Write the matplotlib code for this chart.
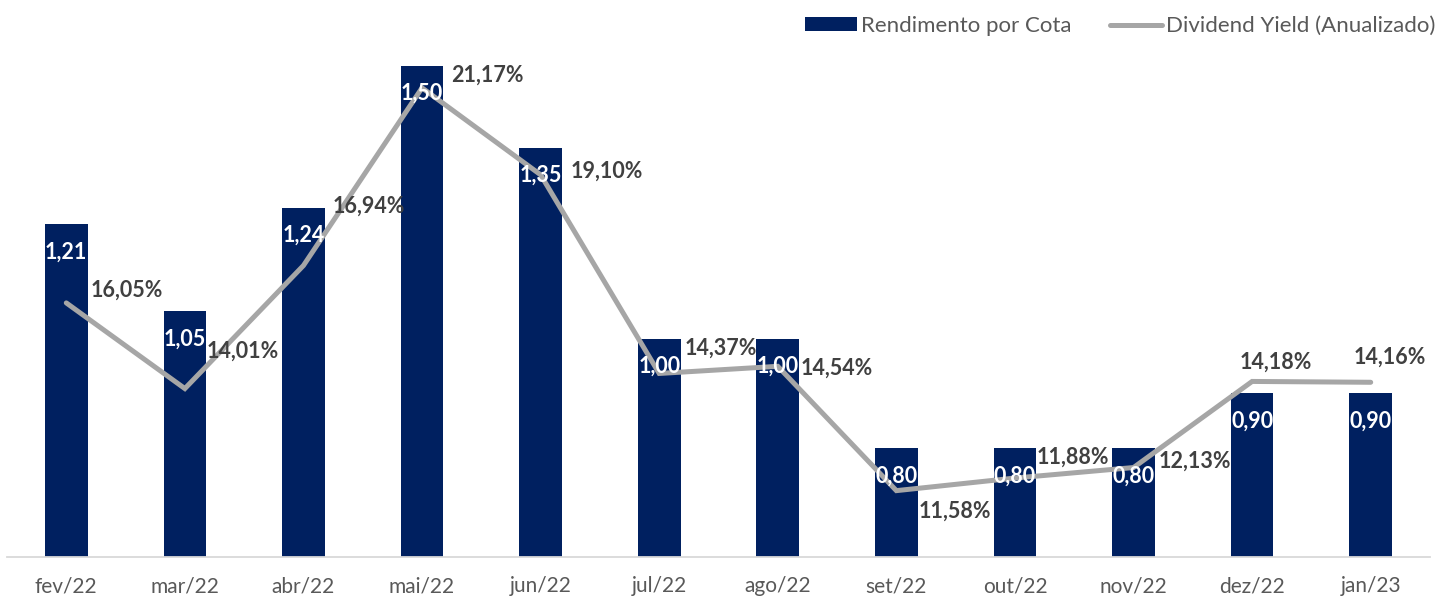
import matplotlib
matplotlib.use("Agg")
import matplotlib.pyplot as plt
from matplotlib.patches import Patch
from matplotlib.lines import Line2D

plt.rcParams['font.family'] = ['Lato', 'DejaVu Sans']

months = ["fev/22", "mar/22", "abr/22", "mai/22", "jun/22", "jul/22",
          "ago/22", "set/22", "out/22", "nov/22", "dez/22", "jan/23"]
rendimento = [1.21, 1.05, 1.24, 1.50, 1.35, 1.00, 1.00, 0.80, 0.80, 0.80, 0.90, 0.90]
dy_pct = [16.05, 14.01, 16.94, 21.17, 19.10, 14.37, 14.54, 11.58, 11.88, 12.13, 14.18, 14.16]

# label offsets (pixels, relative to the line point) for the yield labels
dy_offsets = [(61, 13), (58, 37), (65, 59), (65, 13), (66, 4), (62, 25),
              (59, -2), (58, -21), (58, 21), (61, 6), (24, 19), (19, 25)]

NAVY = "#002060"
GREY = "#A6A6A6"
LABEL = "#404040"
TICK = "#595959"

W, H = 1437, 599
fig = plt.figure(figsize=(W / 100, H / 100), dpi=100)
left, right, bottom, top = 7 / W, 1430 / W, (H - 557) / H, (H - 11) / H
ax = fig.add_axes([left, bottom, right - left, top - bottom])
ax2 = ax.twinx()

x = list(range(len(months)))
bars = ax.bar(x, rendimento, width=0.36, color=NAVY, zorder=2)
ax.set_ylim(0.6, 1.6)
ax.set_xlim(-0.5, len(months) - 0.5)

ax2.plot(x, dy_pct, color=GREY, lw=3.6, solid_capstyle='round',
         solid_joinstyle='miter', zorder=3)
ax2.set_ylim(10, 23)

for a in (ax, ax2):
    for s in a.spines.values():
        s.set_visible(False)
    a.set_yticks([])
ax.spines['bottom'].set_visible(True)
ax.spines['bottom'].set_color("#D9D9D9")
ax.spines['bottom'].set_linewidth(1.3)
ax.set_xticks(x)
ax.set_xticklabels(months, fontsize=15, color=TICK)
ax.tick_params(axis='x', length=0, pad=14)

# bar labels (inside end)
for xi, v in zip(x, rendimento):
    ax2.annotate(f"{v:.2f}".replace('.', ','), xy=(xi, 10 + (v - 0.6) * 13),
                 xytext=(0, -28), textcoords='offset pixels',
                 ha='center', va='center', color='white', fontsize=15.5,
                 fontweight='bold', zorder=5)

# yield labels
for xi, v, (ox, oy) in zip(x, dy_pct, dy_offsets):
    ax2.annotate(f"{v:.2f}".replace('.', ',') + "%", xy=(xi, v),
                 xytext=(ox, oy), textcoords='offset pixels',
                 ha='center', va='center', color=LABEL, fontsize=15.5,
                 fontweight='bold', zorder=5)

handles = [Patch(facecolor=NAVY, edgecolor='none'),
           Line2D([0], [0], color=GREY, lw=3.6, solid_capstyle='round')]
fig.legend(handles, ["Rendimento por Cota", "Dividend Yield (Anualizado)"],
           loc='center right', bbox_to_anchor=(1435 / W, 1 - 26 / H),
           ncol=2, frameon=False, fontsize=16.0, labelcolor=TICK,
           handlelength=2.35, handleheight=0.59, handletextpad=0.15,
           columnspacing=1.75, borderaxespad=0, borderpad=0)

fig.savefig("out.png", dpi=100)
